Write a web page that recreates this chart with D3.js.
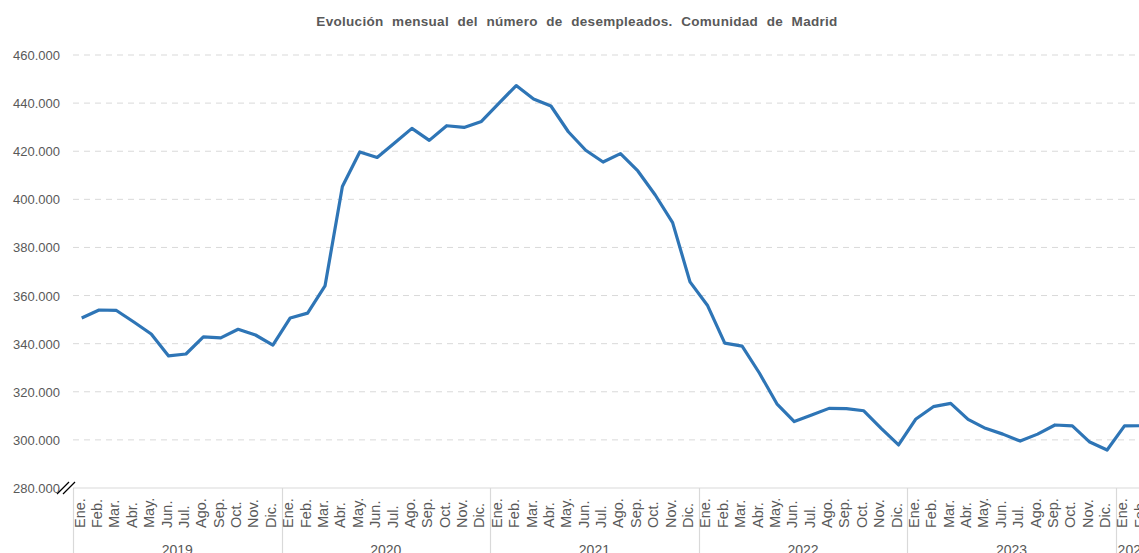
<!DOCTYPE html>
<html>
<head>
<meta charset="utf-8">
<script src="https://cdn.jsdelivr.net/npm/d3@7"></script>
<style>
  body { margin: 0; background: #fff; }
  svg { display: block; font-family: "Liberation Sans", Arial, sans-serif; }
</style>
</head>
<body>
<div id="chart"></div>
<script>
// data
var years = ["2019", "2020", "2021", "2022", "2023", "2024"];
var months = ["Ene.", "Feb.", "Mar.", "Abr.", "May.", "Jun.", "Jul.", "Ago.", "Sep.", "Oct.", "Nov.", "Dic."];
var parados = [
  350.7, 354.0, 353.8, 349.0, 344.0, 334.9, 335.7, 342.8, 342.4, 346.0, 343.6, 339.4,
  350.7, 352.7, 364.0, 405.3, 419.7, 417.4, 423.4, 429.5, 424.5, 430.6, 429.9, 432.4,
  439.9, 447.3, 441.7, 438.8, 428.1, 420.4, 415.5, 419.0, 411.8, 401.8, 390.3, 365.7,
  356.0, 340.2, 339.0, 327.7, 315.0, 307.6, 310.3, 313.1, 313.0, 312.1, 304.8, 297.9,
  308.7, 313.8, 315.2, 308.5, 304.8, 302.4, 299.5, 302.4, 306.2, 305.8, 299.1, 295.8,
  305.8, 305.9
];
var yTicks = [280, 300, 320, 340, 360, 380, 400, 420, 440, 460];

var width = 1139, height = 553;
var margin = {top: 55, left: 73, bottom: 65};
var monthW = 17.38;

// one key per month that has data
var keys = [];
years.forEach(function(y) {
  months.forEach(function(m) { keys.push(y + "-" + m); });
});
keys = keys.slice(0, parados.length);

var svg = d3.select("#chart")
  .append("svg")
  .attr("width", width)
  .attr("height", height);

var x = d3.scaleBand()
  .domain(keys)
  .range([margin.left, margin.left + monthW * keys.length]);

var y = d3.scaleLinear()
  .domain([280, 460])
  .range([height - margin.bottom, margin.top]);

// title
svg.append("text")
  .attr("x", 577)
  .attr("y", 26)
  .attr("text-anchor", "middle")
  .attr("font-size", 13.5)
  .attr("font-weight", "bold")
  .attr("letter-spacing", 0.3)
  .attr("word-spacing", 4.5)
  .attr("fill", "#595959")
  .text("Evolución mensual del número de desempleados. Comunidad de Madrid");

// gridlines
svg.append("g")
  .selectAll("line")
  .data(yTicks.slice(1))
  .enter()
  .append("line")
    .attr("x1", margin.left)
    .attr("x2", width)
    .attr("y1", function(d) { return y(d); })
    .attr("y2", function(d) { return y(d); })
    .attr("stroke", "#d9d9d9")
    .attr("stroke-width", 1)
    .attr("stroke-dasharray", "6,5");

// y labels
svg.append("g")
  .selectAll("text")
  .data(yTicks)
  .enter()
  .append("text")
    .attr("x", 60)
    .attr("y", function(d) { return y(d) + 5; })
    .attr("text-anchor", "end")
    .attr("font-size", 13)
    .attr("fill", "#595959")
    .text(function(d) { return d3.format(",")(d * 1000).replace(/,/g, "."); });

// x axis line
svg.append("line")
  .attr("x1", margin.left)
  .attr("x2", width)
  .attr("y1", y(280))
  .attr("y2", y(280))
  .attr("stroke", "#d9d9d9")
  .attr("stroke-width", 1.2);

// year separators
svg.append("g")
  .selectAll("line")
  .data(years)
  .enter()
  .append("line")
    .attr("x1", function(d) { return Math.round(x(d + "-Ene.")) + 0.5; })
    .attr("x2", function(d) { return Math.round(x(d + "-Ene.")) + 0.5; })
    .attr("y1", y(280))
    .attr("y2", height)
    .attr("stroke", "#d9d9d9")
    .attr("stroke-width", 1.2);

// month labels (read upwards, aligned at the bottom)
svg.append("g")
  .selectAll("text")
  .data(keys)
  .enter()
  .append("text")
    .attr("transform", function(d) {
      return "translate(" + (x(d) + x.bandwidth() / 2 + 3) + ",528) rotate(-90)";
    })
    .attr("text-anchor", "start")
    .attr("font-size", 14.5)
    .attr("fill", "#595959")
    .text(function(d) { return d.split("-")[1]; });

// year labels, centred over the months each year has
svg.append("g")
  .selectAll("text")
  .data(years)
  .enter()
  .append("text")
    .attr("x", function(d) {
      var ks = keys.filter(function(k) { return k.indexOf(d) === 0; });
      return x(ks[0]) + monthW * ks.length / 2;
    })
    .attr("y", 555)
    .attr("text-anchor", "middle")
    .attr("font-size", 14)
    .attr("fill", "#595959")
    .text(function(d) { return d; });

// axis break mark
var bx = margin.left - 7, by = y(280);
[-3, 3].forEach(function(o) {
  svg.append("line")
    .attr("x1", bx - 6 + o)
    .attr("y1", by + 6)
    .attr("x2", bx + 6 + o)
    .attr("y2", by - 6)
    .attr("stroke", "#000")
    .attr("stroke-width", 1.3);
});

// line
var line = d3.line()
  .x(function(d, i) { return x(keys[i]) + x.bandwidth() / 2; })
  .y(function(d) { return y(d); });

svg.append("path")
  .datum(parados)
  .attr("d", line)
  .attr("fill", "none")
  .attr("stroke", "#2e75b6")
  .attr("stroke-width", 3.2)
  .attr("stroke-linejoin", "round");
</script>
</body>
</html>
